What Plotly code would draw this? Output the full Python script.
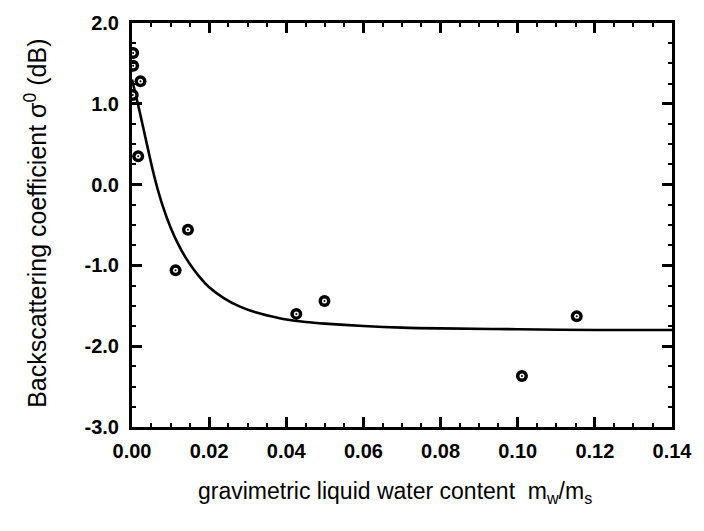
import plotly.graph_objects as go

# measured data points
obs_x = [0.0003, 0.0003, 0.0022, 0.0002, 0.0016, 0.0113, 0.0145, 0.0426, 0.0499, 0.1011, 0.1153]
obs_y = [1.63, 1.47, 1.28, 1.11, 0.35, -1.06, -0.56, -1.60, -1.44, -2.37, -1.63]

# fitted curve
fit_x = [0.000, 0.002, 0.004, 0.006, 0.008, 0.010, 0.012, 0.014, 0.016, 0.018, 0.020,
         0.024, 0.028, 0.032, 0.036, 0.040, 0.045, 0.050, 0.060, 0.070, 0.080, 0.100, 0.120, 0.140]
fit_y = [1.30, 0.90, 0.47, 0.06, -0.27, -0.53, -0.74, -0.91, -1.05, -1.17, -1.27,
         -1.41, -1.51, -1.58, -1.63, -1.67, -1.70, -1.72, -1.75, -1.77, -1.78, -1.79, -1.80, -1.80]

x_ticks = [0.00, 0.02, 0.04, 0.06, 0.08, 0.10, 0.12, 0.14]
x_labels = ["0.00", "0.02", "0.04", "0.06", "0.08", "0.10", "0.12", "0.14"]
y_ticks = [2.0, 1.0, 0.0, -1.0, -2.0, -3.0]
y_labels = ["2.0", "1.0", "0.0", "-1.0", "-2.0", "-3.0"]

fig = go.Figure()
fig.add_trace(go.Scatter(x=fit_x, y=fit_y, mode="lines", line=dict(color="black", width=2.6, shape="spline"),
                         hoverinfo="skip"))
fig.add_trace(go.Scatter(x=obs_x, y=obs_y, mode="markers",
                         marker=dict(symbol="circle", size=12, color="black", line=dict(width=0))))
fig.add_trace(go.Scatter(x=obs_x, y=obs_y, mode="markers",
                         marker=dict(symbol="circle", size=5, color="white", line=dict(width=0))))
fig.add_trace(go.Scatter(x=obs_x, y=obs_y, mode="markers",
                         marker=dict(symbol="circle", size=2, color="black", line=dict(width=0))))

axis_common = dict(showgrid=False, zeroline=False, showline=True, linecolor="black", linewidth=3,
                   mirror="ticks", ticks="inside", ticklen=10, tickwidth=2.5, tickcolor="black",
                   tickfont=dict(family="Liberation Sans", size=20, color="black", weight="bold"))

fig.update_xaxes(range=[0, 0.14], tickvals=x_ticks, ticktext=x_labels, ticklabelstandoff=4,
                 minor=dict(dtick=0.005, ticks="inside", ticklen=4, tickwidth=2, tickcolor="black"),
                 **axis_common)
fig.update_yaxes(range=[-3.0, 2.0], tickvals=y_ticks, ticktext=y_labels, ticklabelstandoff=6,
                 minor=dict(dtick=0.25, ticks="inside", ticklen=4, tickwidth=2, tickcolor="black"),
                 **axis_common)

fig.add_annotation(text="Backscattering coefficient σ<sup>0</sup> (dB)", xref="paper", yref="paper",
                   x=-0.178, y=0.505, xanchor="center", yanchor="middle", textangle=-90, showarrow=False,
                   font=dict(family="Liberation Sans", size=25, color="black"))
fig.add_annotation(text="gravimetric liquid water content  m<sub>w</sub>/m<sub>s</sub>", xref="paper", yref="paper",
                   x=0.487, y=-0.163, xanchor="center", yanchor="middle", showarrow=False,
                   font=dict(family="Liberation Sans", size=23, color="black"))

fig.update_layout(width=704, height=531, margin=dict(l=132, r=28, t=21, b=104),
                  paper_bgcolor="white", plot_bgcolor="white", showlegend=False)

fig.write_html("out.html")
